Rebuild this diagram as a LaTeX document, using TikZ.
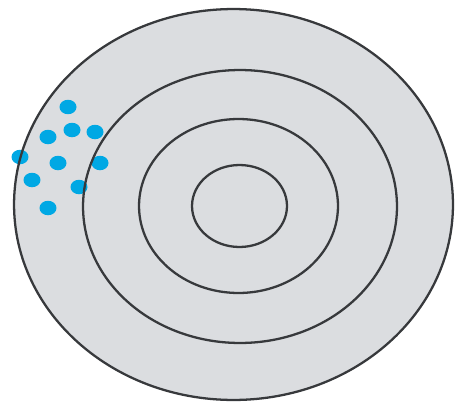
\documentclass[tikz,border=0pt]{standalone}
\usepackage{tikz}
\usetikzlibrary{shapes.geometric}
\definecolor{targetgray}{RGB}{219,221,224}
\definecolor{ringline}{RGB}{55,57,60}
\definecolor{shotblue}{RGB}{0,168,228}

\begin{document}
\begin{tikzpicture}[x=0.02cm,y=-0.02cm,
  ring/.style={draw=ringline,ellipse,inner sep=0pt,line width=1.3pt},
  shot/.style={fill=shotblue,ellipse,inner sep=0pt,minimum width=0.34cm,minimum height=0.29cm}
]
\useasboundingbox (0,0) rectangle (455,402);
% target background
\node[ellipse,fill=targetgray,inner sep=0pt,minimum width=8.78cm,minimum height=7.82cm] (board) at (233.5,204.5) {};
% shots
\node[shot] (s1) at (68,107) {};
\node[shot] (s2) at (72,130) {};
\node[shot] (s3) at (95,132) {};
\node[shot] (s4) at (48,137) {};
\node[shot] (s5) at (20,157) {};
\node[shot] (s6) at (58,163) {};
\node[shot] (s7) at (100,163) {};
\node[shot] (s8) at (32,180) {};
\node[shot] (s9) at (79,187) {};
\node[shot] (s10) at (48,208) {};
% rings
\node[ring,minimum width=8.78cm,minimum height=7.82cm] (outer) at (233.5,204.5) {};
\node[ring,minimum width=6.28cm,minimum height=5.46cm] (second) at (240,206.5) {};
\node[ring,minimum width=3.98cm,minimum height=3.48cm] (third) at (238.5,206) {};
\node[ring,minimum width=1.9cm,minimum height=1.64cm] (bull) at (239.5,206) {};
\end{tikzpicture}
\end{document}
